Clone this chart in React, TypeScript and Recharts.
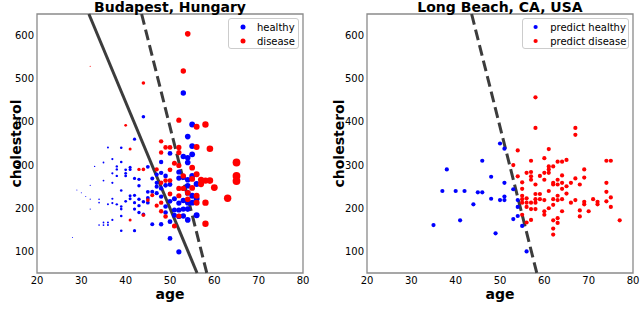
import React from 'react';
import { ScatterChart, Scatter, XAxis, YAxis, ReferenceLine, ReferenceArea, Legend, Label } from 'recharts';

// ---------- data ----------
const ageTicks = [20, 30, 40, 50, 60, 70, 80];
const cholTicks = [100, 200, 300, 400, 500, 600];
const ageDomain = [20, 80];
const cholDomain = [50, 650];

// Budapest, Hungary: [age, cholesterol]
const budapestHealthy: [number, number][] = [
  [28, 132], [29, 242], [30, 236], [31, 227], [32, 253], [32, 221], [32, 198], [33, 297],
  [34, 221], [34, 213], [34, 161], [35, 264], [35, 306], [35, 167], [35, 161], [36, 341],
  [36, 209], [36, 167], [36, 161], [37, 314], [37, 281], [37, 259], [37, 222], [37, 212],
  [37, 173], [38, 297], [38, 290], [38, 275], [38, 209], [39, 340], [39, 307], [39, 241],
  [39, 204], [39, 198], [39, 182], [39, 148], [40, 289], [40, 281], [40, 275], [40, 216],
  [41, 295], [41, 290], [41, 229], [41, 222], [42, 360], [42, 269], [42, 230], [42, 213],
  [42, 198], [42, 148], [43, 267], [43, 252], [43, 221], [43, 206], [43, 190], [44, 412],
  [44, 215], [44, 186], [45, 296], [45, 238], [45, 224], [45, 213], [46, 269], [46, 238],
  [46, 163], [47, 278], [47, 259], [47, 250], [47, 235], [48, 307], [48, 282], [48, 246],
  [48, 227], [48, 163], [49, 275], [49, 253], [49, 204], [49, 190], [50, 327], [50, 255],
  [50, 216], [50, 169], [50, 130], [51, 222], [51, 196], [51, 184], [52, 99], [52, 284],
  [52, 270], [52, 212], [52, 196], [52, 181], [53, 467], [53, 320], [53, 272], [53, 218],
  [53, 198], [53, 182], [54, 366], [54, 317], [54, 306], [54, 266], [54, 252], [54, 236],
  [54, 213], [54, 198], [54, 173], [55, 394], [55, 344], [55, 325], [55, 275], [55, 229],
  [55, 213], [56, 256], [56, 222], [56, 184],
];
const budapestDisease: [number, number][] = [
  [32, 529], [40, 392], [41, 337], [41, 173], [43, 290], [44, 490], [44, 290], [44, 184],
  [45, 219], [46, 230], [47, 290], [47, 206], [48, 355], [48, 329], [48, 259], [48, 213],
  [48, 193], [49, 341], [49, 264], [49, 181], [50, 341], [50, 289], [50, 264], [50, 233],
  [51, 304], [51, 159], [52, 404], [52, 341], [52, 329], [52, 299], [52, 246], [52, 229],
  [52, 182], [53, 518], [53, 246], [53, 275], [54, 604], [54, 236], [54, 221], [55, 294],
  [55, 268], [55, 247], [56, 389], [56, 342], [56, 279], [56, 229], [56, 213], [57, 266],
  [57, 256], [58, 394], [58, 264], [58, 213], [58, 164], [59, 338], [59, 264], [60, 248],
  [63, 223], [65, 306], [65, 275], [65, 263],
];

// Long Beach, CA, USA: [age, cholesterol]
const longBeachHealthy: [number, number][] = [
  [35, 161], [37, 240], [38, 290], [40, 240], [41, 172], [42, 240], [44, 209], [45, 237],
  [46, 237], [46, 310], [48, 273], [48, 222], [49, 142], [50, 350], [51, 338], [50, 219],
  [51, 259], [51, 227], [51, 219], [53, 244], [53, 175], [54, 219], [54, 203], [54, 182],
  [55, 159], [56, 100],
];
const longBeachDisease: [number, number][] = [
  [53, 300], [54, 334], [54, 274], [55, 260], [55, 245], [55, 229], [55, 221], [55, 213],
  [55, 185], [56, 282], [56, 223], [56, 213], [56, 203], [56, 167], [57, 310], [57, 284],
  [57, 274], [57, 266], [57, 213], [57, 198], [57, 173], [58, 457], [58, 386], [58, 255],
  [58, 233], [58, 221], [58, 213], [58, 198], [59, 275], [59, 233], [59, 221], [60, 316],
  [60, 282], [60, 266], [60, 219], [60, 193], [60, 185], [61, 337], [61, 297], [61, 290],
  [61, 282], [61, 240], [61, 200], [62, 297], [62, 259], [62, 255], [62, 221], [62, 208],
  [62, 172], [62, 153], [62, 139], [63, 308], [63, 266], [63, 255], [63, 229], [63, 219],
  [63, 177], [63, 166], [64, 308], [64, 276], [64, 259], [64, 245], [64, 221], [64, 193],
  [65, 312], [65, 251], [65, 234], [66, 259], [66, 213], [67, 386], [67, 370], [67, 269],
  [67, 219], [68, 255], [68, 195], [68, 181], [69, 290], [69, 271], [69, 215], [69, 209],
  [70, 193], [71, 221], [72, 215], [72, 209], [74, 310], [74, 259], [74, 238], [74, 216],
  [75, 310], [75, 225], [75, 203], [77, 172],
];

// decision boundaries: [age, cholesterol] end points
const solidBoundary: [number, number][] = [[31.7, 650], [56.1, 50]];
const dashedBoundary: [number, number][] = [[43.6, 650], [58.3, 50]];

// ---------- helpers ----------
const FONT = '"DejaVu Sans", sans-serif';
const BLUE = '#0000ff';
const RED = '#ff0000';
const LINE = '#3c3c3c';

const toPts = (arr: [number, number][]) => arr.map(([age, chol]) => ({ age, chol }));
const toSeg = (arr: [number, number][]) => arr.map(([x, y]) => ({ x, y }));

const sizedDot = (color: string) => (props: any) => {
  const { cx, cy, payload } = props;
  if (cx == null || cy == null) return <g />;
  const r = Math.max(0.5, 0.1 * (payload.age - 26));
  return <circle cx={cx} cy={cy} r={r} fill={color} />;
};
const fixedDot = (color: string) => (props: any) => {
  const { cx, cy } = props;
  if (cx == null || cy == null) return <g />;
  return <circle cx={cx} cy={cy} r={2.1} fill={color} />;
};

type LegendItem = { label: string; color: string };

const LegendBox = ({ items, markerR, padLeft, gap }: { items: LegendItem[]; markerR: number; padLeft: number; gap: number }) => (
  <div
    style={{
      boxSizing: 'border-box',
      width: '100%',
      height: '100%',
      border: '1px solid #cccccc',
      borderRadius: 3,
      background: 'rgba(255,255,255,0.85)',
      paddingTop: 1,
      paddingLeft: padLeft,
      fontFamily: FONT,
      fontSize: 10,
      color: '#000',
    }}
  >
    {items.map((it) => (
      <div key={it.label} style={{ display: 'flex', alignItems: 'center', height: 14, whiteSpace: 'nowrap' }}>
        <svg width={markerR * 2 + 1} height={14} style={{ marginRight: gap, flex: 'none' }}>
          <circle cx={markerR + 0.5} cy={7} r={markerR} fill={it.color} />
        </svg>
        <span>{it.label}</span>
      </div>
    ))}
  </div>
);

type PanelProps = {
  left: number;
  title: string;
  yAxisWidth: number;
  rightMargin: number;
  ylabelX: number;
  healthy: [number, number][];
  disease: [number, number][];
  sized: boolean;
  lines: { seg: [number, number][]; dash?: string }[];
  legendItems: LegendItem[];
  legendBox: { left: number; width: number; markerR: number; padLeft: number; gap: number };
};

const W = 320;
const H = 332;
const TOP = 14;
const XAXIS_H = 30;
const BOTTOM = 29;

const Panel = (p: PanelProps) => {
  const plotLeft = p.yAxisWidth;
  const plotWidth = W - p.yAxisWidth - p.rightMargin;
  return (
    <div style={{ position: 'absolute', left: p.left, top: 0, width: W, height: H }}>
      <ScatterChart
        width={W}
        height={H}
        margin={{ top: TOP, right: p.rightMargin, bottom: BOTTOM, left: 0 }}
        style={{ fontFamily: FONT }}
      >
        <XAxis
          type="number"
          dataKey="age"
          domain={ageDomain}
          ticks={ageTicks}
          allowDataOverflow
          height={XAXIS_H}
          axisLine={false}
          tickLine={false}
          tickSize={0}
          tickMargin={4}
          tick={{ fontSize: 10, fill: '#000', fontFamily: FONT }}
        >
          <Label
            content={(props: any) => {
              const vb = props.viewBox || {};
              return (
                <text
                  x={vb.x + vb.width / 2}
                  y={vb.y + 26}
                  textAnchor="middle"
                  fontFamily={FONT}
                  fontWeight="bold"
                  fontSize={14}
                  fill="#000"
                >
                  age
                </text>
              );
            }}
          />
        </XAxis>
        <YAxis
          type="number"
          dataKey="chol"
          domain={cholDomain}
          ticks={cholTicks}
          allowDataOverflow
          width={p.yAxisWidth}
          axisLine={false}
          tickLine={false}
          tickSize={0}
          tickMargin={3}
          tick={{ fontSize: 10, fill: '#000', fontFamily: FONT }}
        >
          <Label
            content={(props: any) => {
              const vb = props.viewBox || {};
              const cy = vb.y + vb.height / 2;
              return (
                <text
                  x={p.ylabelX}
                  y={cy}
                  transform={`rotate(-90 ${p.ylabelX} ${cy})`}
                  textAnchor="middle"
                  fontFamily={FONT}
                  fontWeight="bold"
                  fontSize={14}
                  fill="#000"
                >
                  cholesterol
                </text>
              );
            }}
          />
        </YAxis>
        <ReferenceArea
          x1={ageDomain[0]}
          x2={ageDomain[1]}
          y1={cholDomain[0]}
          y2={cholDomain[1]}
          fill="none"
          stroke="#8a8a8a"
          strokeWidth={1.3}
          ifOverflow="visible"
        />
        <Scatter
          name="healthy"
          data={toPts(p.healthy)}
          fill={BLUE}
          isAnimationActive={false}
          shape={p.sized ? sizedDot(BLUE) : fixedDot(BLUE)}
        />
        <Scatter
          name="disease"
          data={toPts(p.disease)}
          fill={RED}
          isAnimationActive={false}
          shape={p.sized ? sizedDot(RED) : fixedDot(RED)}
        />
        {p.lines.map((l, i) => (
          <ReferenceLine
            key={i}
            segment={toSeg(l.seg)}
            stroke={LINE}
            strokeWidth={3}
            strokeDasharray={l.dash}
            ifOverflow="visible"
          />
        ))}
        <Legend
          layout="vertical"
          align="center"
          verticalAlign="middle"
          wrapperStyle={{ top: 18, left: p.legendBox.left, width: p.legendBox.width, height: 31 }}
          content={() => (
            <LegendBox
              items={p.legendItems}
              markerR={p.legendBox.markerR}
              padLeft={p.legendBox.padLeft}
              gap={p.legendBox.gap}
            />
          )}
        />
      </ScatterChart>
      <div
        style={{
          position: 'absolute',
          left: plotLeft,
          width: plotWidth,
          top: 0,
          textAlign: 'center',
          fontFamily: FONT,
          fontWeight: 'bold',
          fontSize: 14,
          lineHeight: '14px',
          color: '#000',
          whiteSpace: 'nowrap',
        }}
      >
        {p.title}
      </div>
    </div>
  );
};

export default function App() {
  return (
    <div style={{ position: 'absolute', left: 0, top: 0, width: 640, height: 332, background: '#fff', overflow: 'hidden' }}>
      <Panel
        left={0}
        title="Budapest, Hungary"
        yAxisWidth={37}
        rightMargin={17}
        ylabelX={21}
        healthy={budapestHealthy}
        disease={budapestDisease}
        sized
        lines={[{ seg: solidBoundary }, { seg: dashedBoundary, dash: '11 5' }]}
        legendItems={[
          { label: 'healthy', color: BLUE },
          { label: 'disease', color: RED },
        ]}
        legendBox={{ left: 228, width: 71, markerR: 2.5, padLeft: 11, gap: 11 }}
      />
      <Panel
        left={320}
        title="Long Beach, CA, USA"
        yAxisWidth={47}
        rightMargin={7}
        ylabelX={24}
        healthy={longBeachHealthy}
        disease={longBeachDisease}
        sized={false}
        lines={[{ seg: dashedBoundary, dash: '11 5' }]}
        legendItems={[
          { label: 'predict healthy', color: BLUE },
          { label: 'predict disease', color: RED },
        ]}
        legendBox={{ left: 202, width: 107, markerR: 2.1, padLeft: 10, gap: 12 }}
      />
    </div>
  );
}
